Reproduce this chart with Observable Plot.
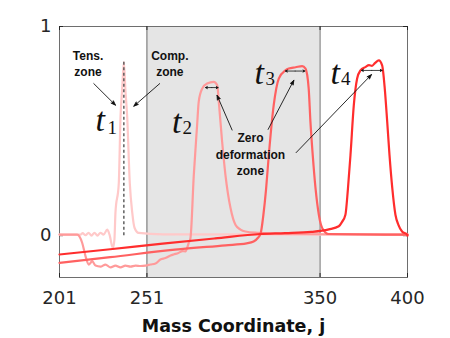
<!DOCTYPE html>
<html><head><meta charset="utf-8">
<script src="https://cdn.jsdelivr.net/npm/d3@7"></script>
<script src="https://cdn.jsdelivr.net/npm/@observablehq/plot@0.6"></script>
<style>body{margin:0;background:#fff}</style>
</head><body><div id="chart"></div>
<script>
// ---- data ----
const xTicks = [201, 251, 350, 400];
const yTicks = [0, 1];
const zoneBounds = [251, 350];

const t1J = [201, 213, 214.2, 215.9, 217.6, 219.3, 221, 222.7, 224.4, 226.2, 228.3, 229.6, 231.5, 232.4, 233, 234.9, 235.9, 236.8, 237.8, 238.7, 239.7, 241.2, 242.6, 243.9, 246.3, 260, 400];
const t1V = [0.005, 0.005, 0.012, 0.002, 0.014, 0.0, 0.014, 0.0, 0.014, 0.005, 0.029, 0.005, -0.059, -0.02, 0.11, 0.25, 0.57, 0.695, 0.83, 0.695, 0.57, 0.25, 0.11, 0.038, 0.013, 0.006, 0.005];

const t2J = [201, 211.1, 214, 215.9, 217.8, 219.7, 221.6, 224.4, 227.3, 230.2, 233, 235.9, 238.7, 241.6, 244.5, 247.3, 250.2, 253, 255.9, 258.7, 261.6, 264.5, 266.2, 269, 271.3, 273, 274.9, 275.9, 277.8, 279.7, 280.6, 282.6, 285.4, 289.2, 291.2, 292.1, 294, 295.9, 298.8, 301.6, 304.5, 307.3, 314.8, 327.4, 400];
const t2V = [0.005, 0.005, -0.035, -0.099, -0.138, -0.122, -0.143, -0.148, -0.138, -0.152, -0.143, -0.152, -0.143, -0.148, -0.143, -0.145, -0.143, -0.138, -0.133, -0.114, -0.107, -0.095, -0.09, -0.083, -0.074, -0.075, -0.035, -0.011, 0.29, 0.529, 0.64, 0.703, 0.727, 0.735, 0.719, 0.64, 0.449, 0.29, 0.132, 0.052, 0.029, 0.02, 0.013, 0.008, 0.005];

const t3J = [201, 230, 267, 296, 308, 312, 314.5, 316, 317.6, 319.1, 320.7, 323.5, 326.4, 330.2, 332.1, 336, 339.8, 341.7, 343.5, 344.5, 345.8, 347.4, 349.3, 351.2, 354.8, 400];
const t3V = [-0.13, -0.103, -0.067, -0.046, -0.037, -0.028, -0.01, 0.01, 0.1, 0.22, 0.386, 0.624, 0.751, 0.79, 0.799, 0.805, 0.811, 0.799, 0.703, 0.544, 0.386, 0.227, 0.1, 0.037, 0.008, 0.005];

const t4J = [201, 230, 260, 290, 316, 330, 345, 355, 360.7, 362.5, 364.5, 365.9, 367.4, 369.3, 371.2, 373.1, 375.9, 378, 379.7, 381.5, 383.6, 385.5, 387, 388.4, 389.7, 391.3, 393.1, 394.8, 396.9, 399.8, 400];
const t4V = [-0.09, -0.065, -0.038, -0.013, 0.008, 0.012, 0.018, 0.03, 0.045, 0.065, 0.1, 0.22, 0.386, 0.624, 0.751, 0.79, 0.806, 0.815, 0.812, 0.826, 0.838, 0.814, 0.703, 0.544, 0.386, 0.227, 0.1, 0.052, 0.02, 0.005, 0.0];

const seriesColors = ["#ffc9c9", "#ff9a9a", "#ff6161", "#ff2d2d"];

// split line (between tension and compression zones)
const splitJ = 237.8;
const splitTop = 0.83;

// time labels
const tLabelText = ["t", "t", "t", "t"];
const tLabelJ = [221.6, 265.4, 312.5, 356];
const tLabelV = [0.5, 0.49, 0.727, 0.727];
const subText = ["1", "2", "3", "4"];
const subJ = [228.4, 271.3, 318.8, 362];
const subV = [0.488, 0.488, 0.722, 0.722];

// notes
const noteText = ["Tens.\nzone", "Comp.\nzone", "Zero\ndeformation\nzone"];
const noteJ = [217.3, 264.1, 310.2];
const noteV = [0.762, 0.762, 0.29];

// annotation arrows
const arrowFromJ = [220.6, 258.3, 299.7, 320.3, 336.3];
const arrowFromV = [0.727, 0.727, 0.505, 0.508, 0.397];
const arrowToJ = [233, 243.5, 291.1, 335, 379.4];
const arrowToV = [0.624, 0.619, 0.671, 0.743, 0.77];

// zero-deformation width (double arrows)
const widthLeftJ = [284.5, 330.2, 373.7];
const widthRightJ = [291.7, 341.3, 385.5];
const widthV = [0.708, 0.787, 0.79];

// ---- build rows ----
const curves = [[t1J, t1V], [t2J, t2V], [t3J, t3V], [t4J, t4V]].map(([J, V]) => J.map((j, i) => ({j, v: V[i]})));
const notes = noteText.map((text, i) => ({text, j: noteJ[i], v: noteV[i]}));
const tLabels = tLabelText.map((text, i) => ({text, j: tLabelJ[i], v: tLabelV[i]}));
const subs = subText.map((text, i) => ({text, j: subJ[i], v: subV[i]}));
const arrows = arrowFromJ.map((j1, i) => ({j1, v1: arrowFromV[i], j2: arrowToJ[i], v2: arrowToV[i]}));
const dbl = [];
widthLeftJ.forEach((l, i) => {
  const m = (l + widthRightJ[i]) / 2;
  dbl.push({j1: m, j2: l, v: widthV[i]});
  dbl.push({j1: m, j2: widthRightJ[i], v: widthV[i]});
});

const axisColor = "#6e6e6e";

const chart = Plot.plot({
  width: 450,
  height: 338,
  marginLeft: 59,
  marginRight: 43,
  marginTop: 26,
  marginBottom: 61,
  style: {fontFamily: "DejaVu Sans", background: "white", color: "#262626"},
  x: {domain: [201, 400]},
  y: {domain: [-0.2, 1]},
  marks: [
    Plot.rect([zoneBounds], {x1: d => d[0], x2: d => d[1], y1: -0.2, y2: 1, fill: "#e5e5e5"}),
    Plot.ruleX(zoneBounds, {stroke: axisColor, strokeWidth: 1}),
    Plot.frame({stroke: axisColor, strokeWidth: 1}),
    Plot.tickY(yTicks, {y: d => d, insetRight: 344, stroke: "#262626"}),
    Plot.tickY(yTicks, {y: d => d, insetLeft: 344, stroke: "#262626"}),
    Plot.tickX(xTicks, {x: d => d, insetTop: 247, stroke: "#262626"}),
    Plot.tickX(xTicks, {x: d => d, insetBottom: 247, stroke: "#262626"}),
    Plot.axisX(xTicks, {tickSize: 0, tickPadding: 14, fontSize: 18, label: null, color: "#262626", tickFormat: d => String(d)}),
    Plot.axisY(yTicks, {tickSize: 0, tickPadding: 8, fontSize: 18, label: null, color: "#262626", tickFormat: d => String(d)}),
    ...curves.map((rows, k) => Plot.line(rows, {x: "j", y: "v", stroke: seriesColors[k], strokeWidth: 2.2, curve: "monotone-x"})),
    Plot.ruleX([splitJ], {y1: 0, y2: splitTop, stroke: "#555", strokeWidth: 1.4, strokeDasharray: "3,2.5"}),
    Plot.arrow(arrows, {x1: "j1", y1: "v1", x2: "j2", y2: "v2", stroke: "#111", fill: "#111", strokeWidth: 0.9, headLength: 8, headAngle: 40}),
    Plot.arrow(dbl, {x1: "j1", y1: "v", x2: "j2", y2: "v", stroke: "#111", fill: "#111", strokeWidth: 0.8, headLength: 4, headAngle: 60}),
    Plot.text(notes, {x: "j", y: "v", text: "text", fontFamily: "Liberation Sans", fontWeight: "bold", fontSize: 12, lineAnchor: "bottom", lineHeight: 1.36, textAnchor: "middle", fill: "#111"}),
    Plot.text(tLabels, {x: "j", y: "v", text: "text", fontFamily: "Liberation Serif", fontStyle: "italic", fontSize: 34, lineAnchor: "bottom", textAnchor: "start", fill: "#111"}),
    Plot.text(subs, {x: "j", y: "v", text: "text", fontFamily: "Liberation Serif", fontSize: 19, lineAnchor: "bottom", textAnchor: "start", fill: "#111"}),
    Plot.text(["Mass Coordinate, j"], {frameAnchor: "bottom", dy: 54, lineAnchor: "bottom", fontWeight: "bold", fontSize: 17.5, fill: "#111"})
  ]
});
document.getElementById("chart").appendChild(chart);
</script>
</body></html>
